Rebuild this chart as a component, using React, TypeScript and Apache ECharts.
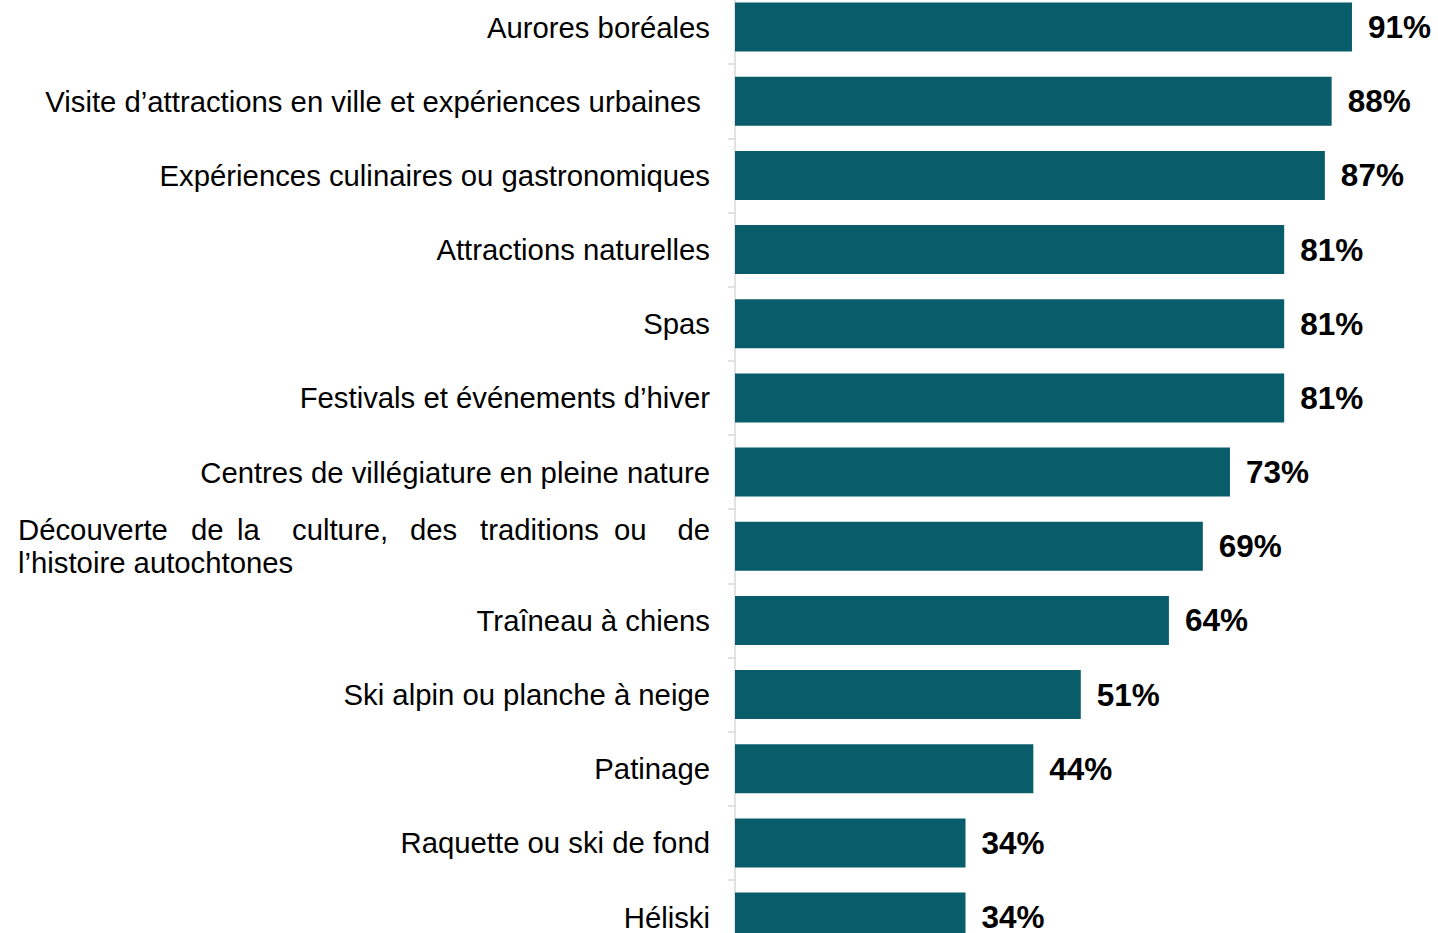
import React, { useEffect, useRef } from "react";
import * as echarts from "echarts";

const categories = [
  "Aurores boréales",
  "Visite d’attractions en ville et expériences urbaines",
  "Expériences culinaires ou gastronomiques",
  "Attractions naturelles",
  "Spas",
  "Festivals et événements d’hiver",
  "Centres de villégiature en pleine nature",
  "Découverte de la culture, des traditions ou de l’histoire autochtones",
  "Traîneau à chiens",
  "Ski alpin ou planche à neige",
  "Patinage",
  "Raquette ou ski de fond",
  "Héliski",
];
const values = [91, 88, 87, 81, 81, 81, 73, 69, 64, 51, 44, 34, 34];

const justifiedWords = ["Découverte", "de", "la", "culture,", "des", "traditions", "ou", "de"];
const justifiedWidths = [173, 46, 55, 118, 70, 134, 65, 31];
const secondLine = "l’histoire autochtones";

const FONT = "'Liberation Sans', Arial, Helvetica, sans-serif";
const BAR = "#095D6A";
const FS = 29.3;

export default function App() {
  const ref = useRef<HTMLDivElement>(null);
  useEffect(() => {
    if (!ref.current) return;
    const chart = echarts.init(ref.current, null, { renderer: "svg" });
    const rich: any = {
      pad: { padding: [0, 9, 0, 0], fontSize: FS, fontFamily: FONT, color: "#000" },
      l2: { width: 692, align: "left", fontSize: FS, fontFamily: FONT, color: "#000", lineHeight: 33 },
    };
    justifiedWords.forEach((_, i) => {
      rich["w" + i] = {
        width: justifiedWidths[i],
        align: i === justifiedWords.length - 1 ? "right" : "left",
        fontSize: FS,
        fontFamily: FONT,
        color: "#000",
        lineHeight: 33,
      };
    });
    chart.setOption({
      animation: false,
      grid: { left: 735, width: 678, top: 0, height: 964.2, containLabel: false },
      xAxis: {
        type: "value",
        min: 0,
        max: 100,
        show: false,
      },
      yAxis: {
        type: "category",
        data: categories,
        inverse: true,
        axisLine: { show: true, lineStyle: { color: "#D9D9D9", width: 1.5 } },
        axisTick: { show: true, length: 7, lineStyle: { color: "#D9D9D9", width: 1.5 } },
        axisLabel: {
          margin: 25,
          fontSize: FS,
          fontFamily: FONT,
          color: "#000",
          lineHeight: 33,
          rich,
          formatter: (v: string, idx: number) => {
            if (idx === 1) return "{pad|" + v + "}";
            if (idx === 7) {
              return (
                justifiedWords.map((w, i) => "{w" + i + "|" + w + "}").join("") +
                "\n{l2|" + secondLine + "}"
              );
            }
            return v;
          },
        },
        splitLine: { show: false },
      },
      series: [
        {
          type: "bar",
          data: values,
          barWidth: 49,
          itemStyle: { color: BAR },
          label: {
            show: true,
            position: "right",
            distance: 16,
            formatter: "{c}%",
            fontSize: 31.5,
            fontWeight: "bold",
            fontFamily: FONT,
            color: "#000",
          },
        },
      ],
    });
    return () => chart.dispose();
  }, []);
  return (
    <div
      style={{
        position: "fixed",
        left: 0,
        top: 0,
        width: 1438,
        height: 933,
        overflow: "hidden",
        background: "#fff",
      }}
    >
      <div
        ref={ref}
        style={{ position: "absolute", left: 0, top: -10, width: 1438, height: 966 }}
      />
    </div>
  );
}
